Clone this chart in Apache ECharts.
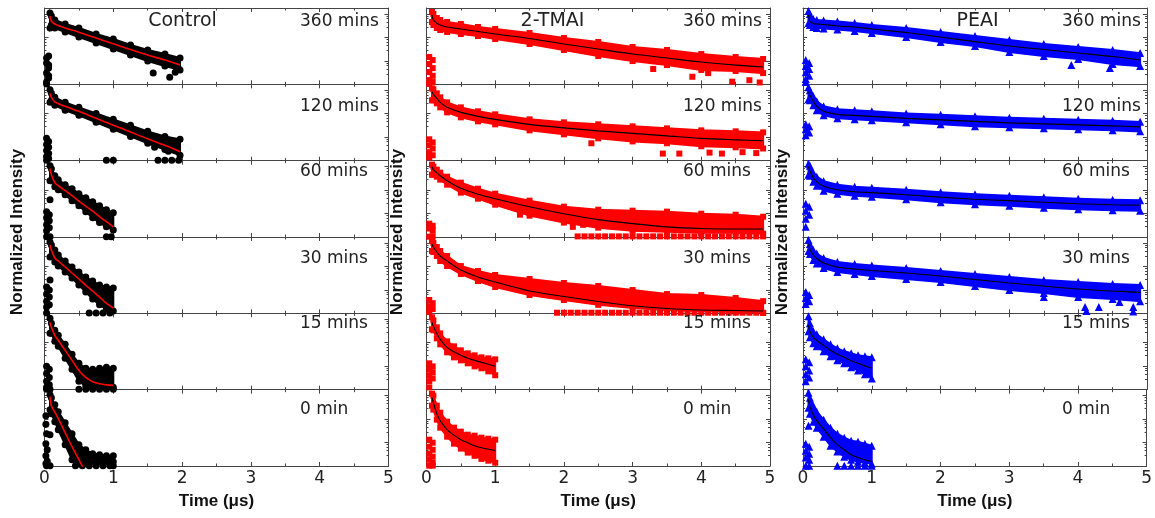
<!DOCTYPE html>
<html><head><meta charset="utf-8">
<script src="https://cdn.jsdelivr.net/npm/echarts@6/dist/echarts.min.js"></script>
<style>html,body{margin:0;padding:0;background:#fff}#c{width:1155px;height:518px}</style>
</head><body><div id="c"></div><script>
// ---------- shared axes / labels ----------
const TIMES_1US = [0.08,0.1,0.15,0.2,0.3,0.4,0.5,0.6,0.7,0.8,0.9,1.0];
const TIMES_2US = [0.08,0.1,0.15,0.3,0.5,0.75,1.0,1.25,1.5,1.75,1.97];
const TIMES_5US = [0.08,0.1,0.15,0.2,0.3,0.5,0.75,1,1.5,2,2.5,3,3.5,4,4.5,4.9];
const X_TICK_LABELS = ['0','1','2','3','4','5'];
const SAMPLE_NAMES = ['Control','2-TMAI','PEAI'];
const AGING_LABELS = ['360 mins','120 mins','60 mins','30 mins','15 mins','0 min'];

// ---------- Control ----------
const ctl360Fit = [0.811,0.497,0.370,0.250,0.166,0.0938,0.053,0.0303,0.0177,0.0108,0.0066];
const ctl360Hi  = [1.089,0.811,0.548,0.370,0.250,0.139,0.0850,0.0472,0.0289,0.0195,0.0132];
const ctl360Lo  = [0.250,0.336,0.250,0.169,0.103,0.0574,0.0319,0.0177,0.0098,0.0060,0.0041];
const ctl360Extra = [[0.03,0.0132],[0.06,0.016],[0.03,0.0081],[0.06,0.0049],[0.03,0.003],[0.06,0.00185],[0.03,0.00125],[0.06,0.0066],[0.06,0.0023],[0.03,0.00103],[1.58,0.003],[1.82,0.002],[1.95,0.0045],[1.9,0.0033]];

const ctl120Fit = [0.736,0.497,0.320,0.206,0.126,0.0633,0.0325,0.0167,0.0085,0.0045,0.0024];
const ctl120Hi  = [1.04,0.736,0.497,0.304,0.186,0.103,0.0574,0.0319,0.0177,0.0108,0.0081];
const ctl120Lo  = [0.304,0.370,0.227,0.139,0.0850,0.0428,0.0215,0.0108,0.0055,0.0030,0.00168];
const ctl120Extra = [[0.03,0.0089],[0.06,0.0066],[0.03,0.0049],[0.06,0.0037],[0.03,0.0027],[0.06,0.0020],[0.03,0.00152],[0.06,0.00125],[0.03,0.00103],[0.9,0.00103],[1.0,0.00103],[1.65,0.00103],[1.75,0.00103],[1.85,0.00103],[1.95,0.00103],[1.6,0.0037],[1.8,0.0025]];

const ctl60Fit = [0.811,0.450,0.206,0.153,0.0938,0.0574,0.0335,0.0205,0.0126,0.0073,0.0045,0.0027];
const ctl60Hi  = [1.089,0.811,0.408,0.276,0.169,0.114,0.0699,0.0472,0.0319,0.0215,0.0145,0.0108];
const ctl60Lo  = [0.250,0.250,0.139,0.103,0.0633,0.0352,0.0215,0.0120,0.0066,0.0041,0.0027,0.0020];
const ctl60Extra = [[0.08,0.0388],[0.03,0.012],[0.07,0.0089],[0.03,0.0066],[0.07,0.0049],[0.03,0.0033],[0.07,0.0025],[0.03,0.00185],[0.03,0.00103],[0.08,0.00103],[0.9,0.00103],[0.97,0.00103]];

const ctl30Fit = [0.811,0.497,0.227,0.169,0.0938,0.0521,0.0289,0.0160,0.0089,0.0049,0.0027,0.00168];
const ctl30Hi  = [1.089,0.811,0.497,0.304,0.169,0.0938,0.0574,0.0352,0.0237,0.0160,0.0132,0.0120];
const ctl30Lo  = [0.250,0.276,0.153,0.103,0.0574,0.0319,0.0160,0.0081,0.0041,0.0023,0.00152,0.00125];
const ctl30Extra = [[0.08,0.0262],[0.03,0.0132],[0.07,0.0098],[0.03,0.0066],[0.07,0.0049],[0.03,0.0033],[0.07,0.0023],[0.03,0.00185],[0.03,0.00103],[0.65,0.00103],[0.75,0.00103],[0.85,0.00103],[0.95,0.00103]];

const ctl15Fit = [0.736,0.450,0.206,0.126,0.0472,0.0177,0.0066,0.0033,0.00215,0.00177,0.0016,0.00152];
const ctl15Hi  = [1.089,0.667,0.336,0.206,0.0850,0.0319,0.0132,0.0081,0.0073,0.0081,0.0089,0.0081];
const ctl15Lo  = [0.250,0.250,0.114,0.0699,0.0215,0.0073,0.0023,0.00138,0.00125,0.00125,0.00125,0.00125];
const ctl15Extra = [[0.03,0.0098],[0.07,0.0073],[0.03,0.0049],[0.07,0.0033],[0.03,0.0023],[0.07,0.0016],[0.03,0.00125],[0.03,0.00103],[0.08,0.00103],[0.5,0.00103],[0.6,0.00103],[0.7,0.00103],[0.8,0.00103],[0.9,0.00103],[1.0,0.00103]];

const ctl0Fit = [0.895,0.370,0.196,0.103,0.0262,0.0066,0.00185,0.0005,null,null,null,null];
const ctl0Hi  = [1.089,0.811,0.408,0.206,0.0699,0.0237,0.0081,0.0049,0.0033,0.0030,0.0027,0.0027];
const ctl0Lo  = [0.250,0.169,0.0771,0.0352,0.0081,0.00185,0.00125,0.00138,0.00152,0.00152,0.00152,0.00152];
const ctl0Extra = [[0.08,0.0215],[0.02,0.139],[0.02,0.06],[0.03,0.0237],[0.02,0.0089],[0.04,0.0049],[0.02,0.0027],[0.04,0.0016],[0.02,0.00125],[0.03,0.00103],[0.08,0.00103],[0.45,0.00103],[0.55,0.00103],[0.65,0.00103],[0.75,0.00103],[0.85,0.00103],[0.95,0.00103],[1.0,0.00103]];

// ---------- 2-TMAI ----------
const tma360Fit = [0.895,0.548,0.408,0.336,0.276,0.227,0.177,0.139,0.0894,0.0521,0.0319,0.0195,0.0132,0.0089,0.0066,0.0055];
const tma360Hi  = [1.201,0.987,0.667,0.548,0.450,0.370,0.276,0.227,0.153,0.0938,0.0633,0.0388,0.0289,0.0195,0.0145,0.0120];
const tma360Lo  = [0.450,0.336,0.250,0.206,0.169,0.139,0.114,0.0850,0.0521,0.0289,0.0160,0.0098,0.0066,0.0041,0.0037,0.0030];
const tma360Extra = [[0.04,0.0145],[0.09,0.0108],[0.04,0.0073],[0.09,0.0049],[0.04,0.0033],[0.09,0.0023],[0.04,0.00152],[0.04,0.00103],[0.09,0.00125],[3.87,0.0021],[4.45,0.0013],[4.7,0.0015],[4.85,0.0012],[3.3,0.0045],[4.1,0.003]];

const tma120Fit = [0.852,0.667,0.450,0.304,0.186,0.114,0.0771,0.0574,0.0352,0.0249,0.0186,0.0145,0.0114,0.0089,0.0077,0.0070];
const tma120Hi  = [1.201,1.089,0.736,0.497,0.304,0.186,0.126,0.0938,0.0574,0.0428,0.0352,0.0289,0.0237,0.0195,0.0177,0.0160];
const tma120Lo  = [0.370,0.370,0.276,0.186,0.114,0.0699,0.0472,0.0352,0.0195,0.0132,0.0089,0.0066,0.0055,0.0041,0.0037,0.0033];
const tma120Extra = [[0.04,0.0081],[0.09,0.0060],[0.04,0.0045],[0.09,0.0033],[0.04,0.0023],[0.09,0.0017],[0.04,0.00138],[2.4,0.0055],[3.44,0.002],[3.68,0.002],[4.12,0.0022],[4.3,0.002],[4.6,0.0023],[4.8,0.0021]];

const tma60Fit = [0.987,0.736,0.548,0.408,0.250,0.120,0.0665,0.0428,0.0195,0.0098,0.0055,0.0037,0.0027,0.0023,0.0022,0.0022];
const tma60Hi  = [1.201,0.987,0.736,0.548,0.370,0.206,0.114,0.0699,0.0352,0.0195,0.0145,0.0132,0.0120,0.0098,0.0089,0.0073];
const tma60Lo  = [0.450,0.450,0.370,0.276,0.169,0.0771,0.0428,0.0237,0.0081,0.0041,0.0025,0.00185,0.00168,0.00152,0.00152,0.00138];
const tma60Extra = [[0.04,0.0037],[0.09,0.0030],[0.04,0.0023],[0.09,0.00185],[0.04,0.00103],[0.09,0.00103],[1.36,0.0089],[2.13,0.0027],[2.28,0.0033],
  [2.2,0.00106],[2.3,0.00106],[2.4,0.00106],[2.5,0.00106],[2.6,0.00106],[2.7,0.00106],[2.8,0.00106],[2.9,0.00106],[3.0,0.00106],[3.1,0.00106],[3.2,0.00106],[3.3,0.00106],[3.4,0.00106],[3.5,0.00106],[3.6,0.00106],[3.7,0.00106],[3.8,0.00106],[3.9,0.00106],[4.0,0.00106],[4.1,0.00106],[4.2,0.00106],[4.3,0.00106],[4.4,0.00106],[4.5,0.00106],[4.6,0.00106],[4.7,0.00106],[4.8,0.00106],[4.9,0.00106]];

const tma30Fit = [0.869,0.667,0.408,0.276,0.169,0.0699,0.0352,0.0215,0.0089,0.0052,0.0032,0.0021,0.0016,0.00138,0.00131,0.00125];
const tma30Hi  = [1.201,0.987,0.667,0.450,0.276,0.103,0.0633,0.0428,0.0289,0.0195,0.0145,0.0098,0.0066,0.0060,0.0045,0.0033];
const tma30Lo  = [0.450,0.408,0.276,0.169,0.103,0.0472,0.0237,0.0132,0.0060,0.0037,0.0023,0.00168,0.00138,0.00125,0.00114,0.00103];
const tma30Extra = [[0.04,0.0037],[0.09,0.0027],[0.04,0.0020],[0.09,0.00152],[0.04,0.00114],
  [1.9,0.00106],[2.0,0.00106],[2.1,0.00106],[2.2,0.00106],[2.3,0.00106],[2.4,0.00106],[2.5,0.00106],[2.6,0.00106],[2.7,0.00106],[2.8,0.00106],[2.9,0.00106],[3.0,0.00106],[3.1,0.00106],[3.2,0.00106],[3.3,0.00106],[3.4,0.00106],[3.5,0.00106],[3.6,0.00106],[3.7,0.00106],[3.8,0.00106],[3.9,0.00106],[4.0,0.00106],[4.1,0.00106],[4.2,0.00106],[4.3,0.00106],[4.4,0.00106],[4.5,0.00106],[4.6,0.00106],[4.7,0.00106],[4.8,0.00106],[4.9,0.00106]];

const tma15Fit = [0.736,0.497,0.250,0.139,0.0633,0.0407,0.0289,0.0215,0.0177,0.0145,0.0120,0.0098];
const tma15Hi  = [1.201,0.895,0.450,0.250,0.114,0.0699,0.0472,0.0352,0.0289,0.0237,0.0215,0.0195];
const tma15Lo  = [0.370,0.336,0.153,0.0850,0.0388,0.0237,0.0177,0.0132,0.0098,0.0081,0.0060,0.0041];
const tma15Extra = [[0.04,0.0132],[0.09,0.0098],[0.04,0.0073],[0.09,0.0055],[0.04,0.0041],[0.09,0.0030],[0.04,0.0023],[0.04,0.00125]];

const tma0Fit = [0.811,0.497,0.169,0.0850,0.0352,0.0205,0.0132,0.0098,0.0073,0.0060,0.0052,0.0045];
const tma0Hi  = [1.201,0.987,0.370,0.186,0.0771,0.0428,0.0289,0.0215,0.0195,0.0160,0.0145,0.0132];
const tma0Lo  = [0.370,0.250,0.0938,0.0428,0.0177,0.0089,0.0055,0.0037,0.0027,0.0020,0.00168,0.00138];
const tma0Extra = [[0.04,0.0132],[0.09,0.0098],[0.04,0.0066],[0.09,0.0049],[0.04,0.0033],[0.09,0.0025],[0.04,0.00185],[0.09,0.00138],[0.04,0.00103],[0.09,0.00103]];

// ---------- PEAI ----------
const pea360Fit = [0.895,0.497,0.389,0.370,0.352,0.304,0.276,0.227,0.161,0.103,0.066,0.0428,0.0303,0.0215,0.0153,0.0108];
const pea360Hi  = [1.325,0.987,0.605,0.548,0.522,0.473,0.408,0.336,0.250,0.169,0.114,0.0771,0.0521,0.0388,0.0289,0.0215];
const pea360Lo  = [0.408,0.336,0.276,0.250,0.238,0.216,0.186,0.153,0.103,0.0633,0.0428,0.0237,0.0160,0.0120,0.0073,0.0060];
const pea360Extra = [[0.04,0.0108],[0.09,0.0081],[0.04,0.006],[0.09,0.0045],[0.04,0.0033],[0.09,0.0023],[0.04,0.00168],[0.04,0.00125],[3.9,0.0066],[4.46,0.005]];

const pea120Fit = [0.852,0.605,0.336,0.206,0.126,0.0938,0.0850,0.0771,0.0633,0.0547,0.0472,0.0407,0.0369,0.0335,0.0303,0.0275];
const pea120Hi  = [1.325,0.987,0.548,0.336,0.206,0.153,0.139,0.126,0.103,0.0894,0.0771,0.0665,0.0603,0.0547,0.0496,0.0449];
const pea120Lo  = [0.408,0.370,0.227,0.139,0.0850,0.0633,0.0574,0.0521,0.0428,0.0352,0.0289,0.0262,0.0237,0.0215,0.0195,0.0177];
const pea120Extra = [[0.04,0.0352],[0.09,0.0289],[0.04,0.0215],[0.09,0.0160],[0.04,0.0120]];

const pea60Fit = [0.987,0.667,0.336,0.227,0.146,0.103,0.0850,0.0771,0.0633,0.0496,0.0407,0.0352,0.0303,0.0262,0.0237,0.0226];
const pea60Hi  = [1.325,1.089,0.548,0.370,0.238,0.169,0.139,0.126,0.103,0.0809,0.0665,0.0574,0.0496,0.0428,0.0388,0.0369];
const pea60Lo  = [0.450,0.408,0.227,0.153,0.0938,0.0699,0.0574,0.0521,0.0407,0.0303,0.0249,0.0215,0.0177,0.0153,0.0138,0.0132];
const pea60Extra = [[0.04,0.0262],[0.09,0.0195],[0.04,0.0132],[0.09,0.0089],[0.04,0.006],[0.04,0.0027]];

const pea30Fit = [0.869,0.548,0.304,0.216,0.139,0.0938,0.0771,0.0665,0.0521,0.0388,0.0275,0.0195,0.0145,0.0108,0.0089,0.0078];
const pea30Hi  = [1.325,0.895,0.497,0.352,0.227,0.153,0.126,0.109,0.0850,0.0633,0.0472,0.0352,0.0262,0.0215,0.0177,0.0160];
const pea30Lo  = [0.450,0.336,0.186,0.132,0.0850,0.0574,0.0472,0.0388,0.0289,0.0215,0.0145,0.0098,0.0073,0.0049,0.0041,0.0033];
const pea30Extra = [[0.04,0.0081],[0.09,0.006],[0.04,0.0045],[0.09,0.0033],[0.04,0.0025],[4.1,0.00185],[4.3,0.00185],[4.8,0.00185],[4.12,0.00125],[4.8,0.0012],[3.5,0.005],[4.6,0.003]];

const pea15Fit = [0.55,0.304,0.169,0.126,0.0771,0.0472,0.0319,0.0237,0.0169,0.0132,0.0103,0.0081];
const pea15Hi  = [1.325,0.667,0.304,0.227,0.139,0.0850,0.0574,0.0428,0.0352,0.0289,0.0262,0.0237];
const pea15Lo  = [0.304,0.169,0.0938,0.0699,0.0428,0.0262,0.0177,0.0132,0.0089,0.0066,0.0045,0.0030];
const pea15Extra = [[0.04,0.0195],[0.09,0.0145],[0.04,0.0098],[0.09,0.0066],[0.04,0.0045],[0.09,0.0033],[0.04,0.0023]];

const pea0Fit = [0.667,0.336,0.153,0.0850,0.0388,0.0160,0.0081,0.0049,0.0030,0.0023,0.00185,0.0016];
const pea0Hi  = [1.325,0.811,0.370,0.206,0.0938,0.0428,0.0237,0.0160,0.0120,0.0108,0.0089,0.0073];
const pea0Lo  = [0.304,0.169,0.0771,0.0428,0.0177,0.0073,0.0041,0.0025,0.00185,0.00152,0.00138,0.00125];
const pea0Extra = [[0.08,0.0521],[0.04,0.0089],[0.09,0.0066],[0.04,0.0045],[0.09,0.0033],[0.04,0.0023],[0.09,0.00185],[0.04,0.00103],[0.09,0.00103],[0.5,0.00103],[0.6,0.00103],[0.7,0.00103],[0.8,0.00103],[0.9,0.00103],[1.0,0.00103]];

// ---------- build ----------
const panels = [
  {color:'#000000', symbol:'circle', size:7, fitColor:'#ff0000', fitWidth:1.6, rows:[
    {t:TIMES_2US, fit:ctl360Fit, hi:ctl360Hi, lo:ctl360Lo, extra:ctl360Extra},
    {t:TIMES_2US, fit:ctl120Fit, hi:ctl120Hi, lo:ctl120Lo, extra:ctl120Extra},
    {t:TIMES_1US, fit:ctl60Fit, hi:ctl60Hi, lo:ctl60Lo, extra:ctl60Extra},
    {t:TIMES_1US, fit:ctl30Fit, hi:ctl30Hi, lo:ctl30Lo, extra:ctl30Extra},
    {t:TIMES_1US, fit:ctl15Fit, hi:ctl15Hi, lo:ctl15Lo, extra:ctl15Extra},
    {t:TIMES_1US, fit:ctl0Fit, hi:ctl0Hi, lo:ctl0Lo, extra:ctl0Extra}]},
  {color:'#ff0000', symbol:'rect', size:6, fitColor:'#000000', fitWidth:1.1, rows:[
    {t:TIMES_5US, fit:tma360Fit, hi:tma360Hi, lo:tma360Lo, extra:tma360Extra},
    {t:TIMES_5US, fit:tma120Fit, hi:tma120Hi, lo:tma120Lo, extra:tma120Extra},
    {t:TIMES_5US, fit:tma60Fit, hi:tma60Hi, lo:tma60Lo, extra:tma60Extra},
    {t:TIMES_5US, fit:tma30Fit, hi:tma30Hi, lo:tma30Lo, extra:tma30Extra},
    {t:TIMES_1US, fit:tma15Fit, hi:tma15Hi, lo:tma15Lo, extra:tma15Extra},
    {t:TIMES_1US, fit:tma0Fit, hi:tma0Hi, lo:tma0Lo, extra:tma0Extra}]},
  {color:'#0000ff', symbol:'triangle', size:8, fitColor:'#000000', fitWidth:1.1, rows:[
    {t:TIMES_5US, fit:pea360Fit, hi:pea360Hi, lo:pea360Lo, extra:pea360Extra},
    {t:TIMES_5US, fit:pea120Fit, hi:pea120Hi, lo:pea120Lo, extra:pea120Extra},
    {t:TIMES_5US, fit:pea60Fit, hi:pea60Hi, lo:pea60Lo, extra:pea60Extra},
    {t:TIMES_5US, fit:pea30Fit, hi:pea30Hi, lo:pea30Lo, extra:pea30Extra},
    {t:TIMES_1US, fit:pea15Fit, hi:pea15Hi, lo:pea15Lo, extra:pea15Extra},
    {t:TIMES_1US, fit:pea0Fit, hi:pea0Hi, lo:pea0Lo, extra:pea0Extra}]}
];

const PANEL_LEFT = [44.5, 426.5, 803];
const PANEL_W = [344, 343.5, 344];
const TOP = 8, ROW_H = 76.33;
const FRAME = '#444';
const grid = [], xAxis = [], yAxis = [], series = [], graphic = [];

function xAx(g, pos, last) {
  return {
    gridIndex:g, type:'value', min:0, max:5, interval:1, position:pos,
    axisLine:{show:true, onZero:false, lineStyle:{color:FRAME, width:1}},
    axisTick:{show:true, inside:true, length:4, lineStyle:{color:FRAME}},
    minorTick:{show:true, splitNumber:2, length:2.5, lineStyle:{color:FRAME}},
    splitLine:{show:false},
    axisLabel:{show:last, margin:4, fontSize:17, fontFamily:'DejaVu Sans', color:'#222',
               formatter:v => X_TICK_LABELS[Math.round(v)]},
    name: last ? 'Time (\u03bcs)' : '', nameLocation:'middle', nameGap:27,
    nameTextStyle:{fontSize:17, fontWeight:'bold', fontFamily:'Liberation Sans', color:'#111'}
  };
}
function yAx(g, pos) {
  return {
    gridIndex:g, type:'log', logBase:10, min:0.001, max:1.778, position:pos,
    axisLine:{show:true, onZero:false, lineStyle:{color:FRAME, width:1}},
    axisTick:{show:true, inside:true, length:4, lineStyle:{color:FRAME}},
    minorTick:{show:true, splitNumber:5, length:2, lineStyle:{color:FRAME}},
    splitLine:{show:false}, axisLabel:{show:false}
  };
}

panels.forEach((p, pi) => {
  p.rows.forEach((r, ri) => {
    const g = pi * 6 + ri;
    const last = ri === 5;
    grid.push({left:PANEL_LEFT[pi], top:TOP + ri * ROW_H, width:PANEL_W[pi], height:ROW_H});
    xAxis.push(xAx(g, 'bottom', last));
    xAxis.push(xAx(g, 'top', false));
    yAxis.push(yAx(g, 'left'));
    yAxis.push(yAx(g, 'right'));
    const hiPts = r.t.map((t, i) => [t, r.hi[i]]);
    const loPts = r.t.map((t, i) => [t, r.lo[i]]);
    const ring = hiPts.concat(loPts.slice().reverse());
    series.push({
      type:'custom', xAxisIndex:2*g, yAxisIndex:2*g, clip:true, silent:true, z:1,
      data:[hiPts[0]],
      renderItem:(params, api) => ({
        type:'polygon', shape:{points: ring.map(d => api.coord(d))},
        style:{fill:p.color, stroke:p.color, lineWidth:2}
      })
    });
    series.push({
      type:'scatter', xAxisIndex:2*g, yAxisIndex:2*g, clip:true, silent:true, z:2,
      symbol:p.symbol, symbolSize:p.size, itemStyle:{color:p.color, opacity:1},
      data: hiPts.concat(loPts, r.extra)
    });
    series.push({
      type:'line', xAxisIndex:2*g, yAxisIndex:2*g, clip:true, silent:true, z:3,
      showSymbol:false, smooth:0.3, connectNulls:false,
      lineStyle:{color:p.fitColor, width:p.fitWidth},
      data: r.t.map((t, i) => [t, r.fit[i]])
    });
  });
});

// titles, row labels, y names
const TITLE_X = [182.5, 552.5, 977.5];
const LABEL_X = [300, 683, 1062];
const LABEL_Y = [21.7, 106.7, 171.7, 258.3, 324, 410];
const YNAME_X = [17.5, 397.5, 782];
SAMPLE_NAMES.forEach((n, i) => {
  graphic.push({type:'text', x:TITLE_X[i], y:21, z:100, style:{text:n, fontSize:19, fontFamily:'DejaVu Sans', fill:'#222', textAlign:'center', textVerticalAlign:'middle'}});
  AGING_LABELS.forEach((lab, j) => {
    graphic.push({type:'text', x:LABEL_X[i], y:LABEL_Y[j], z:100, style:{text:lab, fontSize:17, fontFamily:'DejaVu Sans', fill:'#222', textAlign:'left', textVerticalAlign:'middle'}});
  });
  graphic.push({type:'text', x:YNAME_X[i], y:232, rotation:Math.PI/2, z:100, style:{text:'Normalized Intensity', fontSize:17, fontWeight:'bold', fontFamily:'Liberation Sans', fill:'#111', textAlign:'center', textVerticalAlign:'middle'}});
});

const chart = echarts.init(document.getElementById('c'), null, {renderer:'canvas'});
chart.setOption({animation:false, backgroundColor:'#fff', grid, xAxis, yAxis, series, graphic});
</script></body></html>
